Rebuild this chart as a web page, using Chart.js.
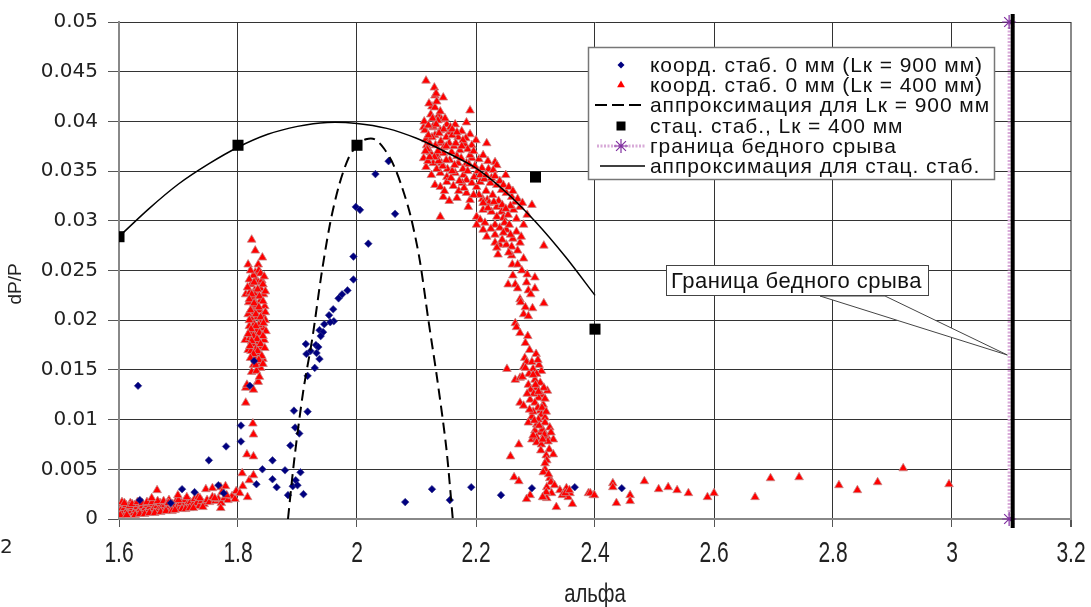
<!DOCTYPE html>
<html><head><meta charset="utf-8">
<script src="https://cdn.jsdelivr.net/npm/chart.js@4.4.0/dist/chart.umd.min.js"></script>
<style>html,body{margin:0;padding:0;background:#fff;}#wrap{width:1091px;height:607px;position:relative;}</style>
</head><body><div id="wrap"><canvas id="c" width="1091" height="607"></canvas></div>
<script>
const xTicks = [1.6, 1.8, 2, 2.2, 2.4, 2.6, 2.8, 3, 3.2];
const yTicks = [0, 0.005, 0.01, 0.015, 0.02, 0.025, 0.03, 0.035, 0.04, 0.045, 0.05];
const xTitle = 'альфа';
const yTitle = 'dP/P';
const legendLabels = [
  'коорд. стаб. 0 мм (Lк = 900 мм)',
  'коорд. стаб. 0 мм (Lк = 400 мм)',
  'аппроксимация для Lк = 900 мм',
  'стац. стаб., Lк = 400 мм',
  'граница бедного срыва',
  'аппроксимация для стац. стаб.'
];
const calloutText = 'Граница бедного срыва';

const bluePts = [
[1.632,0.0134],[1.805,0.0094],[1.805,0.0078],[1.780,0.0073],[1.751,0.0059],[1.820,0.0134],[1.858,0.0059],[1.841,0.0050],
[1.879,0.0049],[1.905,0.0047],[1.858,0.0040],[1.831,0.0035],[1.865,0.0032],[1.897,0.0039],[1.892,0.0033],[1.900,0.0034],
[1.884,0.0024],[1.910,0.0025],[1.894,0.0109],[1.917,0.0108],[1.896,0.0092],[1.903,0.0086],[1.888,0.0074],[1.767,0.0034],
[1.776,0.0026],[1.727,0.0027],[1.706,0.0030],[1.687,0.0016],[1.635,0.0019],
[2.019,0.0277],[1.994,0.0264],[1.994,0.0241],[1.984,0.0230],[1.975,0.0226],[1.969,0.0222],[1.960,0.0211],[1.953,0.0205],
[1.961,0.0199],[1.955,0.0198],[1.945,0.0196],[1.937,0.0190],[1.943,0.0188],[1.939,0.0184],[1.914,0.0176],[1.931,0.0175],
[1.935,0.0173],[1.922,0.0169],[1.915,0.0166],[1.932,0.0167],[1.937,0.0161],[1.929,0.0152],[1.917,0.0144],[2.081,0.0017],
[1.827,0.0159],[2.053,0.0360],[2.031,0.0347],[1.998,0.0314],[2.005,0.0311],[2.064,0.0307],
[2.192,0.0032],[2.242,0.0024],[2.294,0.0031],[2.366,0.0032],[2.445,0.0031],[2.126,0.0030],[2.156,0.0019]
];

const redPts = [
[1.600,0.0008],[1.601,0.0013],[1.603,0.0005],[1.604,0.0010],[1.606,0.0015],[1.607,0.0007],[1.609,0.0011],[1.611,0.0005],
[1.612,0.0014],[1.614,0.0009],[1.616,0.0006],[1.617,0.0012],[1.619,0.0016],[1.621,0.0008],[1.623,0.0011],[1.625,0.0006],
[1.626,0.0014],[1.628,0.0009],[1.630,0.0012],[1.632,0.0007],[1.634,0.0015],[1.636,0.0010],[1.638,0.0006],[1.640,0.0013],
[1.642,0.0009],[1.644,0.0011],[1.646,0.0007],[1.648,0.0014],[1.650,0.0010],[1.652,0.0012],[1.655,0.0008],[1.657,0.0015],
[1.659,0.0011],[1.662,0.0009],[1.664,0.0013],[1.667,0.0010],[1.669,0.0016],[1.672,0.0012],[1.674,0.0009],[1.677,0.0014],
[1.680,0.0011],[1.682,0.0017],[1.685,0.0013],[1.688,0.0010],[1.690,0.0015],[1.693,0.0012],[1.696,0.0018],[1.699,0.0013],
[1.702,0.0011],[1.705,0.0016],[1.708,0.0013],[1.711,0.0019],[1.714,0.0014],[1.717,0.0012],[1.720,0.0017],[1.724,0.0014],
[1.727,0.0020],[1.731,0.0016],[1.735,0.0013],[1.739,0.0018],[1.743,0.0015],[1.748,0.0019],[1.752,0.0017],[1.757,0.0022],
[1.762,0.0018],[1.767,0.0020],[1.772,0.0016],[1.777,0.0021],[1.783,0.0019],[1.790,0.0023],[1.795,0.0020],
[1.602,0.0004],[1.605,0.0017],[1.609,0.0016],[1.613,0.0004],[1.618,0.0013],[1.622,0.0015],[1.627,0.0004],[1.631,0.0017],
[1.635,0.0005],[1.639,0.0016],[1.643,0.0005],[1.647,0.0017],[1.651,0.0006],[1.656,0.0017],[1.660,0.0006],[1.665,0.0018],
[1.670,0.0007],[1.675,0.0018],[1.679,0.0008],[1.684,0.0019],[1.689,0.0008],[1.694,0.0009],[1.700,0.0019],[1.706,0.0010],
[1.712,0.0010],[1.719,0.0011],[1.725,0.0011],[1.733,0.0022],[1.741,0.0012],
[1.664,0.0029],[1.655,0.0021],[1.683,0.0016],[1.699,0.0024],[1.714,0.0022],[1.736,0.0021],[1.746,0.0030],[1.757,0.0031],
[1.771,0.0032],[1.779,0.0033],[1.773,0.0027],[1.781,0.0024],[1.771,0.0011],[1.761,0.0021],[1.797,0.0028],[1.803,0.0026],
[1.816,0.0022],[1.808,0.0033],[1.819,0.0039],[1.826,0.0044],[1.807,0.0046],[1.815,0.0065],[1.826,0.0063],[1.825,0.0096],
[1.826,0.0085],[1.813,0.0117],[1.813,0.0132],[1.826,0.0130],[1.833,0.0138],[1.815,0.0135],
[1.823,0.0281],[1.829,0.0270],[1.841,0.0263],[1.817,0.0256],[1.834,0.0256],[1.829,0.0248],[1.830,0.0241],[1.813,0.0226],
[1.812,0.0180],[1.817,0.0170],[1.823,0.0148],[1.834,0.0138],
[1.826,0.0245],[1.834,0.0238],[1.822,0.0236],[1.838,0.0232],[1.828,0.0230],[1.820,0.0228],[1.843,0.0226],[1.832,0.0224],
[1.825,0.0222],[1.838,0.0220],[1.818,0.0218],[1.830,0.0216],[1.845,0.0214],[1.824,0.0212],[1.836,0.0210],[1.828,0.0208],
[1.817,0.0206],[1.841,0.0205],[1.832,0.0203],[1.823,0.0201],[1.846,0.0200],[1.837,0.0198],[1.827,0.0196],[1.819,0.0194],
[1.842,0.0192],[1.832,0.0190],[1.824,0.0188],[1.838,0.0186],[1.829,0.0184],[1.820,0.0182],[1.844,0.0180],[1.834,0.0178],
[1.826,0.0176],[1.840,0.0173],[1.830,0.0171],[1.822,0.0169],[1.836,0.0167],[1.828,0.0164],[1.842,0.0161],[1.833,0.0158],
[1.826,0.0155],[1.838,0.0152],[1.831,0.0149],[1.836,0.0143],[1.829,0.0160],[1.835,0.0195],[1.831,0.0215],[1.827,0.0227],
[1.840,0.0240],[1.835,0.0250],
[1.821,0.0250],[1.838,0.0247],[1.844,0.0244],[1.819,0.0241],[1.827,0.0238],[1.842,0.0236],[1.816,0.0233],[1.833,0.0231],
[1.846,0.0229],[1.823,0.0226],[1.836,0.0224],[1.819,0.0221],[1.842,0.0219],[1.827,0.0217],[1.835,0.0213],[1.821,0.0210],
[1.846,0.0208],[1.830,0.0206],[1.838,0.0203],[1.819,0.0200],[1.843,0.0197],[1.830,0.0194],[1.822,0.0191],[1.847,0.0189],
[1.836,0.0187],[1.826,0.0184],[1.817,0.0186],[1.842,0.0184],[1.832,0.0181],[1.823,0.0179],[1.838,0.0176],[1.820,0.0174],
[1.845,0.0172],[1.833,0.0169],[1.826,0.0166],[1.840,0.0164],[1.821,0.0162],[1.835,0.0160],[1.830,0.0155],[1.842,0.0156],
[2.116,0.0441],[2.130,0.0434],[2.131,0.0426],[2.133,0.0428],[2.145,0.0424],[2.126,0.0415],[2.131,0.0414],[2.190,0.0411],
[2.124,0.0407],[2.137,0.0406],[2.142,0.0402],[2.112,0.0394],[2.184,0.0399],[2.151,0.0397],[2.165,0.0397],[2.114,0.0391],
[2.128,0.0394],[2.140,0.0391],[2.156,0.0389],[2.190,0.0387],[2.200,0.0381],[2.218,0.0378],[2.116,0.0382],[2.131,0.0386],
[2.170,0.0384],[2.181,0.0377],[2.193,0.0376],[2.112,0.0363],[2.116,0.0354],[2.123,0.0369],[2.134,0.0366],[2.145,0.0368],
[2.159,0.0369],[2.173,0.0371],[2.128,0.0358],[2.142,0.0358],[2.156,0.0361],[2.170,0.0358],[2.184,0.0358],[2.193,0.0363],
[2.232,0.0359],[2.235,0.0356],[2.210,0.0353],[2.221,0.0352],[2.229,0.0351],[2.250,0.0346],[2.140,0.0348],[2.151,0.0344],
[2.165,0.0348],[2.179,0.0346],[2.131,0.0336],[2.140,0.0334],[2.151,0.0339],[2.184,0.0341],[2.193,0.0338],[2.201,0.0334],
[2.207,0.0339],[2.224,0.0338],[2.235,0.0336],[2.243,0.0331],[2.251,0.0328],[2.260,0.0324],[2.266,0.0319],[2.274,0.0314],
[2.294,0.0316],[2.145,0.0324],[2.155,0.0320],[2.168,0.0323],[2.184,0.0328],[2.190,0.0321],[2.187,0.0314],[2.140,0.0304],
[2.201,0.0304],[2.207,0.0301],[2.212,0.0311],[2.219,0.0321],[2.211,0.0322],[2.226,0.0309],[2.235,0.0314],[2.243,0.0309],
[2.235,0.0304],[2.246,0.0303],[2.254,0.0306],[2.263,0.0311],[2.268,0.0302],[2.280,0.0296],[2.201,0.0296],[2.215,0.0298],
[2.232,0.0296],[2.240,0.0293],[2.251,0.0291],[2.268,0.0289],[2.218,0.0284],[2.232,0.0286],[2.240,0.0276],[2.232,0.0278],
[2.235,0.0273],[2.251,0.0276],[2.260,0.0274],[2.274,0.0278],[2.314,0.0275],[2.237,0.0266],[2.260,0.0265],[2.280,0.0262],
[2.261,0.0256],[2.262,0.0245],[2.286,0.0246],[2.299,0.0243],[2.254,0.0236],[2.266,0.0236],[2.288,0.0230],[2.299,0.0232],
[2.274,0.0221],[2.275,0.0218],[2.314,0.0217],[2.117,0.0376],[2.140,0.0378],
[2.118,0.0372],[2.122,0.0378],[2.126,0.0384],[2.132,0.0376],[2.136,0.0370],[2.141,0.0380],[2.146,0.0374],[2.150,0.0384],
[2.155,0.0378],[2.160,0.0386],[2.163,0.0375],[2.168,0.0365],[2.175,0.0363],[2.178,0.0352],[2.186,0.0350],[2.190,0.0366],
[2.197,0.0344],[2.203,0.0350],[2.205,0.0326],[2.214,0.0342],[2.217,0.0330],[2.222,0.0318],[2.228,0.0326],[2.238,0.0320],
[2.244,0.0316],[2.248,0.0298],[2.256,0.0296],[2.262,0.0282],[2.270,0.0270],[2.276,0.0284],[2.152,0.0352],[2.158,0.0343],
[2.162,0.0335],[2.171,0.0330],[2.177,0.0338],[2.147,0.0330],[2.125,0.0346],[2.134,0.0352],[2.119,0.0360],[2.128,0.0395],
[2.136,0.0401],[2.146,0.0392],[2.157,0.0394],[2.176,0.0390],[2.183,0.0383],[2.121,0.0418],[2.134,0.0420],[2.140,0.0410],
[2.113,0.0400],[2.120,0.0396],[2.127,0.0403],[2.133,0.0397],[2.148,0.0403],[2.160,0.0392],[2.168,0.0389],[2.178,0.0381],
[2.186,0.0372],[2.196,0.0370],[2.205,0.0362],[2.212,0.0366],[2.220,0.0360],[2.226,0.0343],[2.232,0.0345],[2.240,0.0340],
[2.246,0.0336],[2.255,0.0334],[2.262,0.0330],[2.270,0.0322],[2.278,0.0318],[2.286,0.0306],[2.258,0.0315],[2.250,0.0312],
[2.230,0.0319],[2.220,0.0313],[2.212,0.0318],[2.196,0.0326],[2.180,0.0333],[2.172,0.0340],[2.160,0.0350],[2.164,0.0356],
[2.150,0.0361],[2.144,0.0355],[2.137,0.0360],[2.130,0.0364],[2.122,0.0364],[2.115,0.0370],[2.120,0.0386],[2.138,0.0388],
[2.150,0.0375],[2.166,0.0378],[2.176,0.0375],[2.188,0.0357],[2.198,0.0355],[2.207,0.0346],[2.217,0.0346],[2.246,0.0288],
[2.258,0.0286],[2.225,0.0292],[2.212,0.0291],[2.244,0.0281],[2.255,0.0268],[2.270,0.0256],[2.277,0.0250],[2.285,0.0238],
[2.292,0.0226],[2.295,0.0212],[2.283,0.0213],[2.270,0.0232],
[2.280,0.0206],[2.288,0.0204],[2.266,0.0197],[2.268,0.0193],[2.274,0.0187],[2.287,0.0184],[2.301,0.0166],[2.282,0.0162],
[2.285,0.0158],[2.280,0.0153],[2.252,0.0151],[2.296,0.0151],[2.310,0.0149],[2.302,0.0146],[2.266,0.0140],[2.274,0.0142],
[2.278,0.0143],[2.299,0.0140],[2.308,0.0137],[2.288,0.0135],[2.302,0.0132],[2.320,0.0129],[2.310,0.0125],[2.305,0.0122],
[2.274,0.0117],[2.280,0.0114],[2.291,0.0120],[2.299,0.0117],[2.313,0.0115],[2.308,0.0109],[2.310,0.0105],[2.294,0.0103],
[2.305,0.0100],[2.316,0.0102],[2.288,0.0097],[2.302,0.0095],[2.316,0.0097],[2.324,0.0092],[2.299,0.0089],[2.308,0.0087],
[2.294,0.0080],[2.302,0.0082],[2.319,0.0083],[2.330,0.0080],[2.302,0.0077],[2.310,0.0075],[2.272,0.0075],[2.323,0.0070],
[2.258,0.0063],[2.330,0.0065],[2.318,0.0064],[2.319,0.0059],[2.316,0.0050],[2.313,0.0047],[2.324,0.0041],[2.264,0.0042],
[2.272,0.0038],[2.326,0.0037],[2.319,0.0032],[2.341,0.0029],[2.352,0.0031],[2.358,0.0026],[2.355,0.0022],[2.362,0.0015],
[2.327,0.0026],[2.319,0.0021],[2.313,0.0022],[2.291,0.0024],[2.285,0.0020],[2.335,0.0012],[2.389,0.0026],[2.397,0.0024],
[2.292,0.0130],[2.297,0.0126],[2.304,0.0112],[2.296,0.0108],[2.312,0.0090],[2.306,0.0094],[2.289,0.0146],[2.294,0.0158],
[2.306,0.0155],[2.315,0.0085],[2.321,0.0078],[2.309,0.0069],[2.316,0.0056],[2.322,0.0045],[2.332,0.0034],[2.345,0.0024],
[2.318,0.0027],
[2.286,0.0126],[2.300,0.0135],[2.314,0.0132],[2.296,0.0145],[2.304,0.0160],[2.290,0.0170],[2.283,0.0177],[2.311,0.0112],
[2.298,0.0099],[2.312,0.0080],[2.296,0.0084],[2.326,0.0087],[2.318,0.0108],[2.290,0.0110],[2.283,0.0152],[2.305,0.0128],
[2.316,0.0121],
[2.312,0.0022],[2.350,0.0026],[2.357,0.0029],[2.392,0.0026],[2.399,0.0024],[2.430,0.0036],[2.430,0.0032],[2.436,0.0016],
[2.459,0.0024],[2.459,0.0018],[2.483,0.0038],[2.507,0.0030],[2.523,0.0032],[2.538,0.0029],[2.557,0.0026],[2.589,0.0022],
[2.600,0.0026],[2.669,0.0022],[2.695,0.0041],[2.743,0.0042],[2.810,0.0034],[2.841,0.0029],[2.875,0.0037],[2.918,0.0051],
[2.995,0.0035]
];

const stacPts = [[1.6,0.0284],[1.8,0.0376],[2.0,0.0376],[2.3,0.0344],[2.4,0.0191]];
const fitStac = [[1.60,0.0284],[1.65,0.0312],[1.70,0.0337],[1.75,0.0357],[1.80,0.0374],[1.85,0.0387],[1.90,0.0395],
[1.95,0.0399],[2.00,0.0398],[2.05,0.0393],[2.10,0.0383],[2.15,0.0369],[2.20,0.0353],[2.25,0.0329],[2.30,0.0299],
[2.35,0.0264],[2.40,0.0225]];
const fit900 = [[1.884,0],[1.895,0.0062],[1.910,0.0130],[1.925,0.0182],[1.940,0.0245],[1.955,0.0298],[1.970,0.0336],
[1.985,0.0362],[2.000,0.0376],[2.015,0.0382],[2.030,0.0382],[2.045,0.0373],[2.060,0.0358],[2.075,0.0335],[2.090,0.0305],
[2.105,0.0262],[2.120,0.0200],[2.135,0.0140],[2.150,0.0072],[2.161,0]];
const boundaryPts = [[3.096,0],[3.096,0.05]];
const boundaryBar = [[3.102,-0.0009],[3.102,0.0508]];

const toXY = a => a.map(p => ({x: p[0], y: p[1]}));

const decor = {
  id: 'decor',
  afterDraw(chart) {
    const ctx = chart.ctx;
    const xs = chart.scales.x, ys = chart.scales.y;
    ctx.save();
    ctx.fillStyle = '#222';
    ctx.font = '30px "Liberation Sans", Arial, sans-serif';
    ctx.textAlign = 'center'; ctx.textBaseline = 'middle';
    xTicks.forEach(v => {
      ctx.save();
      ctx.translate(xs.getPixelForValue(v), 554);
      ctx.scale(0.7, 1);
      ctx.fillText(String(v), 0, 0);
      ctx.restore();
    });
    ctx.font = '26px "Liberation Sans", Arial, sans-serif';
    ctx.save();
    ctx.translate((chart.chartArea.left + chart.chartArea.right) / 2, 595);
    ctx.scale(0.78, 1);
    ctx.fillText(xTitle, 0, 0);
    ctx.restore();
    ctx.font = '19px "Liberation Sans", Arial, sans-serif';
    ctx.save();
    ctx.translate(16, 284);
    ctx.rotate(-Math.PI / 2);
    ctx.fillText(yTitle, 0, 0);
    ctx.restore();
    ctx.font = '20px "DejaVu Sans"';
    ctx.textAlign = 'left';
    ctx.fillText('2', 0, 548);

    const tipX = xs.getPixelForValue(3.093), tipY = ys.getPixelForValue(0.0165);
    ctx.beginPath();
    ctx.moveTo(820, 296); ctx.lineTo(tipX, tipY); ctx.lineTo(885, 296); ctx.closePath();
    ctx.fillStyle = '#fff'; ctx.fill();
    ctx.strokeStyle = '#444'; ctx.lineWidth = 1; ctx.stroke();
    ctx.fillStyle = '#fff'; ctx.fillRect(666, 265, 263, 31);
    ctx.strokeStyle = '#444'; ctx.strokeRect(666.5, 265.5, 262, 30);
    ctx.font = '22px "Liberation Sans", Arial, sans-serif';
    let w = ctx.measureText(calloutText).width;
    ctx.letterSpacing = ((251 - w) / calloutText.length).toFixed(2) + 'px';
    ctx.fillStyle = '#111'; ctx.textAlign = 'left'; ctx.textBaseline = 'middle';
    ctx.fillText(calloutText, 671, 282);
    ctx.letterSpacing = '0px';

    ctx.fillStyle = '#fff'; ctx.fillRect(588, 47, 407, 133);
    ctx.strokeStyle = '#777'; ctx.lineWidth = 1.5; ctx.strokeRect(588.5, 47.5, 406, 132);
    const rows = [65, 85, 105, 126, 146, 166];
    const sx = 621;
    ctx.fillStyle = '#000080';
    ctx.beginPath(); ctx.moveTo(sx-3.5, rows[0]); ctx.lineTo(sx, rows[0]-3.5); ctx.lineTo(sx+3.5, rows[0]); ctx.lineTo(sx, rows[0]+3.5); ctx.closePath(); ctx.fill();
    ctx.fillStyle = '#ff0000';
    ctx.beginPath(); ctx.moveTo(sx, rows[1]-4.5); ctx.lineTo(sx+3.9, rows[1]+2.3); ctx.lineTo(sx-3.9, rows[1]+2.3); ctx.closePath(); ctx.fill();
    ctx.strokeStyle = '#000'; ctx.lineWidth = 2; ctx.setLineDash([12, 5]);
    ctx.beginPath(); ctx.moveTo(595, rows[2]); ctx.lineTo(645, rows[2]); ctx.stroke();
    ctx.setLineDash([]);
    ctx.fillStyle = '#000'; ctx.fillRect(sx-4.5, rows[3]-4.5, 9, 9);
    ctx.strokeStyle = '#d8aad8'; ctx.lineWidth = 3; ctx.setLineDash([2, 1.5]);
    ctx.beginPath(); ctx.moveTo(597, rows[4]); ctx.lineTo(645, rows[4]); ctx.stroke();
    ctx.setLineDash([]);
    ctx.strokeStyle = '#8030a0'; ctx.lineWidth = 1.2;
    ctx.beginPath();
    for (let k = 0; k < 4; k++) {
      const a = k * Math.PI / 4;
      ctx.moveTo(sx - 7*Math.cos(a), rows[4] - 7*Math.sin(a));
      ctx.lineTo(sx + 7*Math.cos(a), rows[4] + 7*Math.sin(a));
    }
    ctx.stroke();
    ctx.strokeStyle = '#000'; ctx.lineWidth = 1.5;
    ctx.beginPath(); ctx.moveTo(600, rows[5]); ctx.lineTo(645, rows[5]); ctx.stroke();
    ctx.font = '21px "Liberation Sans", Arial, sans-serif';
    w = ctx.measureText(legendLabels[0]).width;
    ctx.letterSpacing = ((333 - w) / legendLabels[0].length).toFixed(2) + 'px';
    ctx.fillStyle = '#111'; ctx.textAlign = 'left'; ctx.textBaseline = 'middle';
    legendLabels.forEach((t, i) => ctx.fillText(t, 650, rows[i] + 1));
    ctx.letterSpacing = '0px';
    ctx.restore();
  }
};

const chart = new Chart(document.getElementById('c'), {
  type: 'scatter',
  data: {
    datasets: [
      { label: 'bar', data: toXY(boundaryBar), showLine: true, borderColor: '#000', borderWidth: 4, pointRadius: 0, clip: false, order: 0 },
      { label: legendLabels[4], data: toXY(boundaryPts), showLine: true, borderColor: '#d8aad8', borderWidth: 3, borderDash: [2, 1.5],
        pointStyle: 'star', pointRadius: 7, pointBorderColor: '#8030a0', pointBorderWidth: 1.2, clip: false, order: 1 },
      { label: legendLabels[3], data: toXY(stacPts), pointStyle: 'rect', pointRadius: 7.8, backgroundColor: '#000', borderColor: '#000', borderWidth: 0, order: 2 },
      { label: legendLabels[2], data: toXY(fit900), showLine: true, borderColor: '#000', borderWidth: 2, borderDash: [11, 6], pointRadius: 0, tension: 0.3, order: 3 },
      { label: legendLabels[5], data: toXY(fitStac), showLine: true, borderColor: '#000', borderWidth: 1.5, pointRadius: 0, tension: 0.3, order: 4 },
      { label: legendLabels[0], data: toXY(bluePts), pointStyle: 'rectRot', pointRadius: 3.8, backgroundColor: '#000080', borderColor: '#3a3a8a', borderWidth: 0.6, order: 5 },
      { label: legendLabels[1], data: toXY(redPts), pointStyle: 'triangle', pointRadius: 5, backgroundColor: '#ff0000', borderColor: '#c88888', borderWidth: 0.8, order: 6 }
    ]
  },
  options: {
    responsive: false, animation: false, devicePixelRatio: 1,
    layout: { padding: { top: 17, right: 20, left: 0, bottom: 0 } },
    plugins: { legend: { display: false }, tooltip: { enabled: false } },
    scales: {
      x: {
        type: 'linear', min: 1.6, max: 3.2,
        afterBuildTicks: s => { s.ticks = xTicks.map(v => ({ value: v })); },
        afterFit: s => { s.height = 88; },
        ticks: { display: false },
        grid: { color: c => (c.tick && Math.abs(c.tick.value - 3.2) < 1e-9) ? '#8a8a8a' : '#333',
          lineWidth: c => (c.tick && Math.abs(c.tick.value - 3.2) < 1e-9) ? 2 : 1,
          tickLength: 8, tickColor: '#555' },
        border: { color: '#888', width: 2 },
        title: { display: false }
      },
      y: {
        min: 0, max: 0.05,
        afterBuildTicks: s => { s.ticks = yTicks.map(v => ({ value: v })); },
        afterFit: s => { s.width = 119; },
        ticks: { padding: 10, color: '#222', font: { family: '"DejaVu Sans", sans-serif', size: 20 },
          callback: v => String(v) },
        grid: { color: '#333', lineWidth: 1, tickLength: 11, tickColor: '#555' },
        border: { color: '#888', width: 2 },
        title: { display: false }
      }
    }
  },
  plugins: [decor]
});

(function fit() {
  const want = { left: 119, top: 17, right: 1071, bottom: 519 };
  const p = chart.options.layout.padding;
  for (let i = 0; i < 3; i++) {
    const ca = chart.chartArea;
    p.top += want.top - ca.top;
    p.right += ca.right - want.right;
    p.left += want.left - ca.left;
    p.bottom += ca.bottom - want.bottom;
    chart.update();
  }
})();
</script></body></html>
